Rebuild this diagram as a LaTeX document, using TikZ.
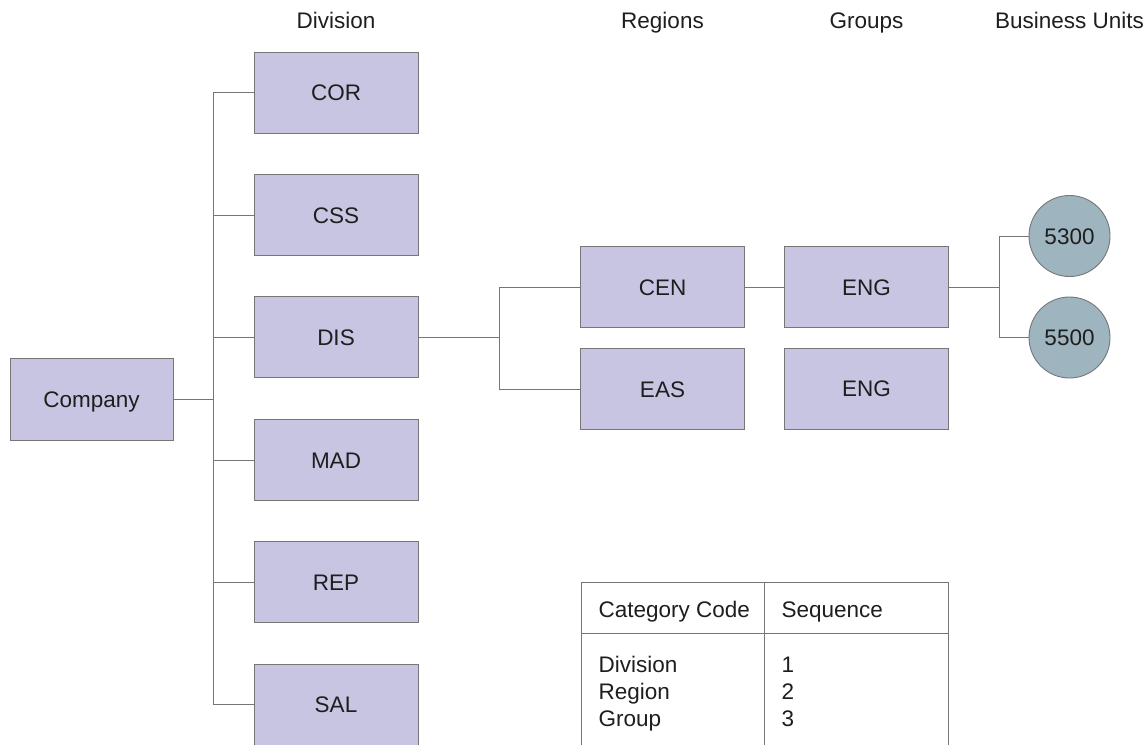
\documentclass[tikz,border=0pt]{standalone}
\usepackage{fontspec}
\setmainfont{Liberation Sans}
\definecolor{boxfill}{RGB}{200,197,226}
\definecolor{circfill}{RGB}{158,181,191}
\definecolor{linegray}{RGB}{118,118,118}
\definecolor{txt}{RGB}{30,30,30}
\begin{document}
\begin{tikzpicture}[x=1pt,y=-1pt,
  every node/.style={font=\fontsize{22.5}{27}\selectfont, text=txt},
  unitbox/.style={draw=linegray, fill=boxfill, line width=0.9pt, minimum width=164pt, minimum height=81pt, inner sep=0pt, text height=16pt, text depth=0pt},
  buc/.style={circle, draw=linegray, fill=circfill, line width=0.9pt, minimum size=81pt, inner sep=0pt, text height=16pt, text depth=0pt},
  conn/.style={draw=linegray, line width=0.9pt},
  hdr/.style={anchor=base},
  cell/.style={anchor=base west}]
\useasboundingbox (0,0) rectangle (1147,744);
\fill[white] (0,0) rectangle (1147,744);

% headers
\node[hdr] (hdiv) at (336,28) {Division};
\node[hdr] (hreg) at (662.5,28) {Regions};
\node[hdr] (hgrp) at (866.5,28) {Groups};
\node[hdr] (hbu) at (1069.5,28) {Business Units};

% company
\node[unitbox, minimum width=163pt, minimum height=82pt] (comp) at (91.5,399) {Company};

% divisions
\node[unitbox] (cor) at (336,92.5) {COR};
\node[unitbox] (css) at (336,215) {CSS};
\node[unitbox] (dis) at (336,337) {DIS};
\node[unitbox] (mad) at (336,460) {MAD};
\node[unitbox] (rep) at (336,582) {REP};
\node[unitbox] (sal) at (336,704.5) {SAL};

% regions and groups
\node[unitbox] (cen) at (662.5,287) {CEN};
\node[unitbox] (eas) at (662.5,389) {EAS};
\node[unitbox] (eng) at (866.5,287) {ENG};
\node[unitbox] (engb) at (866.5,388.5) {ENG};

% business units
\node[buc] (bu1) at (1069.5,236) {5300};
\node[buc] (bu2) at (1069.5,337.5) {5500};

% connectors
\coordinate (t) at (213,399);
\draw[conn] (comp.east) -- (t);
\draw[conn] (cor.west) -| (t);
\draw[conn] (css.west) -| (t);
\draw[conn] (dis.west) -| (t);
\draw[conn] (mad.west) -| (t);
\draw[conn] (rep.west) -| (t);
\draw[conn] (sal.west) -| (t);

\coordinate (r) at (499,337);
\draw[conn] (dis.east) -- (r);
\draw[conn] (cen.west) -| (r);
\draw[conn] (eas.west) -| (r);

\draw[conn] (cen.east) -- (eng.west);

\coordinate (b) at (999,287);
\draw[conn] (eng.east) -- (b);
\draw[conn] (bu1.west) -| (b);
\draw[conn] (bu2.west) -| (b);

% table
\draw[conn] (581,760) -- (581,582) -- (948,582) -- (948,760);
\draw[conn] (764,582) -- (764,760);
\draw[conn] (581,633) -- (948,633);
\node[cell] (th1) at (595,617) {Category Code};
\node[cell] (th2) at (778,617) {Sequence};
\node[cell] (c11) at (595,672) {Division};
\node[cell] (c21) at (595,699) {Region};
\node[cell] (c31) at (595,726) {Group};
\node[cell] (c12) at (778,672) {1};
\node[cell] (c22) at (778,699) {2};
\node[cell] (c32) at (778,726) {3};
\end{tikzpicture}
\end{document}
